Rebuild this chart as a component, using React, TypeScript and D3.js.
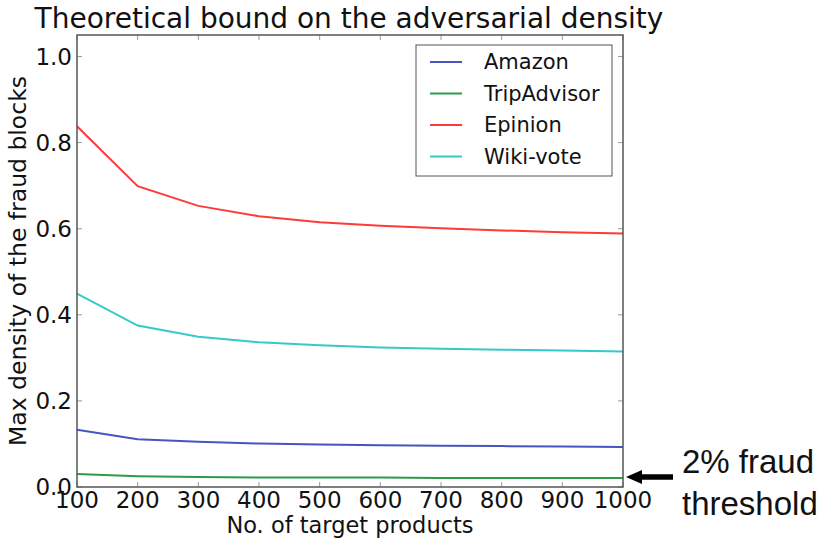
import React from "react";
import * as d3 from "d3";

const products = [100, 200, 300, 400, 500, 600, 700, 800, 900, 1000];
const amazon = [0.133, 0.111, 0.105, 0.101, 0.099, 0.097, 0.096, 0.095, 0.094, 0.093];
const tripAdvisor = [0.030, 0.025, 0.023, 0.022, 0.022, 0.022, 0.021, 0.021, 0.021, 0.021];
const epinion = [0.838, 0.699, 0.653, 0.629, 0.615, 0.607, 0.601, 0.596, 0.592, 0.589];
const wikiVote = [0.449, 0.375, 0.349, 0.336, 0.329, 0.324, 0.321, 0.319, 0.317, 0.315];
const seriesNames = ["Amazon", "TripAdvisor", "Epinion", "Wiki-vote"];
const seriesColors = ["#4756bd", "#2e9a46", "#ff3a3a", "#35c9c9"];
const yTicks = [0.0, 0.2, 0.4, 0.6, 0.8, 1.0];

const W = 826;
const H = 546;
const margin = { top: 35, right: 203, bottom: 59, left: 77 };

export default function App() {
  const innerW = W - margin.left - margin.right;
  const innerH = H - margin.top - margin.bottom;
  const x = d3.scaleLinear().domain([100, 1000]).range([0, innerW]);
  const y = d3.scaleLinear().domain([0, 1.05]).range([innerH, 0]);
  const line = d3
    .line<number>()
    .x((_, i) => x(products[i]))
    .y((d) => y(d));
  const allSeries = [amazon, tripAdvisor, epinion, wikiVote];
  const font = "'DejaVu Sans', sans-serif";
  const lastTrip = tripAdvisor[tripAdvisor.length - 1];
  const arrowY = margin.top + y(lastTrip) - 1;

  return (
    <svg
      width={W}
      height={H}
      style={{ position: "absolute", left: 0, top: 0, background: "#fff" }}
      fontFamily={font}
    >
      <text x={349} y={28} fontSize={28} textAnchor="middle" fill="#111">
        Theoretical bound on the adversarial density
      </text>
      <g transform={`translate(${margin.left},${margin.top})`}>
        {allSeries.map((s, i) => (
          <path
            key={seriesNames[i]}
            d={line(s) ?? ""}
            fill="none"
            stroke={seriesColors[i]}
            strokeWidth={2}
          />
        ))}
        {/* ticks, drawn inward */}
        {products.map((p) => (
          <g key={p}>
            <line x1={x(p)} x2={x(p)} y1={innerH} y2={innerH - 5} stroke="#999" />
            <line x1={x(p)} x2={x(p)} y1={0} y2={5} stroke="#999" />
            <text
              x={x(p)}
              y={innerH + 21}
              fontSize={23}
              textAnchor="middle"
              fill="#111"
            >
              {p}
            </text>
          </g>
        ))}
        {yTicks.map((t) => (
          <g key={t}>
            <line x1={0} x2={5} y1={y(t)} y2={y(t)} stroke="#999" />
            <line x1={innerW} x2={innerW - 5} y1={y(t)} y2={y(t)} stroke="#999" />
            <text
              x={-5}
              y={y(t)}
              dy="0.35em"
              fontSize={23}
              textAnchor="end"
              fill="#111"
            >
              {t.toFixed(1)}
            </text>
          </g>
        ))}
        <rect
          x={0}
          y={0}
          width={innerW}
          height={innerH}
          fill="none"
          stroke="#555"
          strokeWidth={1.5}
        />
        {/* legend */}
        <g transform={`translate(${innerW - 207},${10})`}>
          <rect x={0} y={0} width={196} height={131} fill="#fff" stroke="#555" strokeWidth={1} />
          {seriesNames.map((n, i) => (
            <g key={n} transform={`translate(0,${17 + i * 31.5})`}>
              <line x1={14} x2={46} y1={0} y2={0} stroke={seriesColors[i]} strokeWidth={2} />
              <text x={68} y={0} dy="0.35em" fontSize={21} fill="#111">
                {n}
              </text>
            </g>
          ))}
        </g>
      </g>
      <text
        transform={`translate(26,${margin.top + innerH / 2}) rotate(-90)`}
        fontSize={23.5}
        textAnchor="middle"
        fill="#111"
      >
        Max density of the fraud blocks
      </text>
      <text
        x={margin.left + innerW / 2}
        y={533}
        fontSize={22.5}
        textAnchor="middle"
        fill="#111"
      >
        No. of target products
      </text>
      {/* annotation arrow */}
      <g>
        <line x1={673} x2={640} y1={arrowY} y2={arrowY} stroke="#000" strokeWidth={5.5} />
        <path d={`M${margin.left + innerW + 3},${arrowY} l16,-7 l0,14 z`} fill="#000" />
        <text
          x={682}
          y={473}
          fontSize={33}
          fontFamily="'Liberation Sans', Arial, sans-serif"
          fill="#111"
        >
          2% fraud
        </text>
        <text
          x={682}
          y={515}
          fontSize={33}
          fontFamily="'Liberation Sans', Arial, sans-serif"
          fill="#111"
        >
          threshold
        </text>
      </g>
    </svg>
  );
}
